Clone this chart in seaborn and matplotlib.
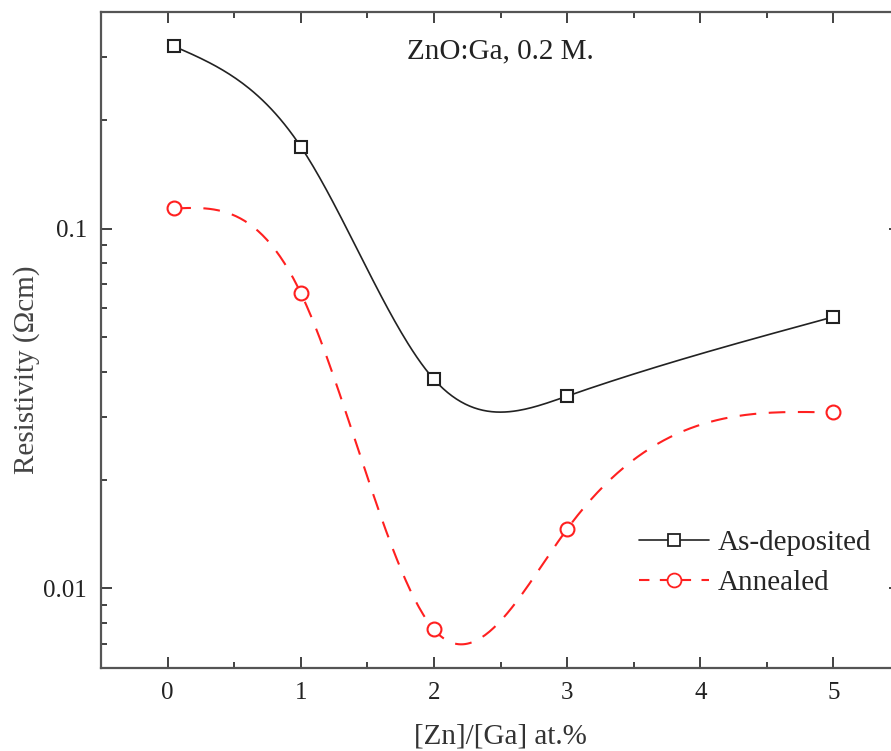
import numpy as np
import pandas as pd
import seaborn as sns
import matplotlib.pyplot as plt
from matplotlib.lines import Line2D
from matplotlib.ticker import LogLocator, MultipleLocator, FixedFormatter, FixedLocator

# --- data ---
zn_ga = [0.05, 1, 2, 3, 5]
as_deposited = [0.321, 0.169, 0.0381, 0.0342, 0.0568]
annealed = [0.1137, 0.0662, 0.00768, 0.0146, 0.0308]

sns.set_theme(style="ticks")
plt.rcParams['font.family'] = ['Liberation Serif', 'DejaVu Serif']


def natural_spline(x, y, n=300):
    # natural cubic spline through the measured points, built on log10(y)
    x = np.asarray(x, float)
    y = np.log10(np.asarray(y, float))
    k = len(x)
    h = np.diff(x)
    A = np.zeros((k, k))
    b = np.zeros(k)
    A[0, 0] = A[-1, -1] = 1
    for i in range(1, k - 1):
        A[i, i - 1] = h[i - 1]
        A[i, i] = 2 * (h[i - 1] + h[i])
        A[i, i + 1] = h[i]
        b[i] = 3 * ((y[i + 1] - y[i]) / h[i] - (y[i] - y[i - 1]) / h[i - 1])
    c = np.linalg.solve(A, b)
    xs = np.linspace(x[0], x[-1], n)
    ys = np.empty_like(xs)
    for j, xv in enumerate(xs):
        i = min(np.searchsorted(x, xv, side='right') - 1, k - 2)
        bi = (y[i + 1] - y[i]) / h[i] - h[i] * (2 * c[i] + c[i + 1]) / 3
        di = (c[i + 1] - c[i]) / (3 * h[i])
        t = xv - x[i]
        ys[j] = y[i] + bi * t + c[i] * t ** 2 + di * t ** 3
    return xs, 10 ** ys


fig = plt.figure(figsize=(8.91, 7.51), dpi=100)
ax = fig.add_axes([101 / 891, 83 / 751, 799 / 891, 656 / 751])

xs1, ys1 = natural_spline(zn_ga, as_deposited)
xs2, ys2 = natural_spline(zn_ga, annealed)
curves = pd.DataFrame({'x': xs1, 'y': ys1})
curves2 = pd.DataFrame({'x': xs2, 'y': ys2})

sns.lineplot(data=curves, x='x', y='y', ax=ax, color='#222222', lw=1.2,
             sort=False, estimator=None)
sns.lineplot(data=curves2, x='x', y='y', ax=ax, color='#ff2020', lw=1.5,
             sort=False, estimator=None, linestyle=(0, (8, 6)))
ax.plot(zn_ga, as_deposited, ls='none', marker='s', ms=9, mfc='white',
        mec='#222222', mew=1.5)
ax.plot(zn_ga, annealed, ls='none', marker='o', ms=10, mfc='white',
        mec='#ff2020', mew=1.5)

ax.set_yscale('log')
ax.set_ylim(0.006, 0.4)
ax.set_xlim(-0.5, 5.5)
ax.xaxis.set_major_locator(MultipleLocator(1))
ax.xaxis.set_minor_locator(MultipleLocator(0.5))
ax.yaxis.set_major_locator(FixedLocator([0.01, 0.1]))
ax.yaxis.set_major_formatter(FixedFormatter(['0.01', '0.1']))
ax.yaxis.set_minor_locator(LogLocator(base=10, subs=np.arange(2, 10) * 1.0))
ax.yaxis.set_minor_formatter(FixedFormatter([]))

for s in ax.spines.values():
    s.set_color('#555555')
    s.set_linewidth(1.6)
ax.tick_params(which='both', direction='in', top=True, right=True,
               color='#333333', width=1.3, labelsize=18, labelcolor='#222222')
ax.tick_params(which='major', length=8, pad=10)
ax.tick_params(which='minor', length=4.5)

ax.set_xlabel('[Zn]/[Ga] at.%', fontsize=21, color='#333333', labelpad=14)
ax.set_ylabel('Resistivity (\u03a9cm)', fontsize=21, color='#444444')
ax.yaxis.set_label_coords(-0.076, 0.455)
ax.text(2.5, 0.31, 'ZnO:Ga, 0.2 M.', fontsize=21, ha='center', va='center',
        color='#222222')

handles = [
    Line2D([], [], color='#222222', lw=1.2, marker='s', ms=9, mfc='white',
           mec='#222222', mew=1.3),
    Line2D([], [], color='#ff2020', lw=1.5, ls=(0, (5, 5)), marker='o', ms=10,
           mfc='white', mec='#ff2020', mew=1.3),
]
ax.legend(handles, ['As-deposited', 'Annealed'], loc='lower left',
          bbox_to_anchor=(0.641, 0.07), frameon=False, fontsize=21,
          handlelength=2.4, handletextpad=0.3, labelspacing=0.45, numpoints=1)

fig.savefig('out.png', dpi=100)
